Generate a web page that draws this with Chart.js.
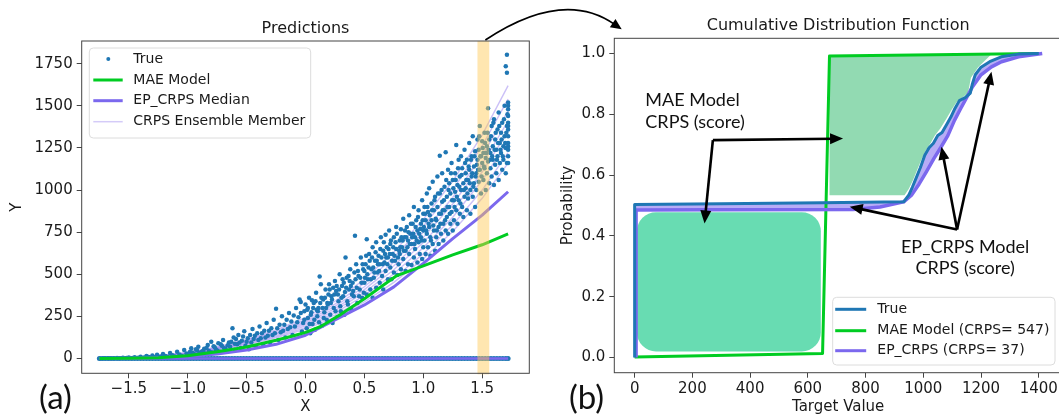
<!DOCTYPE html>
<html><head><meta charset="utf-8">
<script src="https://cdn.jsdelivr.net/npm/chart.js@4.4.1/dist/chart.umd.min.js"></script>
<style>
html,body{margin:0;padding:0;background:#fff;overflow:hidden;width:1059px;height:415px;}
#left{position:absolute;left:0;top:0;}
#right{position:absolute;left:470px;top:0;}
</style></head><body>
<canvas id="left" width="540" height="415"></canvas>
<canvas id="right" width="600" height="415"></canvas>
<script>
// ---------------- DATA: left panel (Predictions) ----------------
const leftXTicks = [-1.5, -1.0, -0.5, 0, 0.5, 1.0, 1.5];
const leftXTickLabels = ['\u22121.5', '\u22121.0', '\u22120.5', '0.0', '0.5', '1.0', '1.5'];
const leftYTicks = [0, 250, 500, 750, 1000, 1250, 1500, 1750];
const leftYTickLabels = ['0', '250', '500', '750', '1000', '1250', '1500', '1750'];
const leftXRange = [-1.9, 1.9];
const leftYRange = [-88, 1885];
const bandRange = [1.46, 1.56];

const trueSamplesLow = [[-1.74,0.5],[-1.71,1.2],[-1.68,0.8],[-1.66,2],[-1.63,1.5],[-1.6,3],[-1.58,2],[-1.55,4],[-1.52,2.5],[-1.5,6],[-1.47,3],[-1.45,8],[-1.42,5],[-1.4,11],[-1.37,6],[-1.35,14],[-1.33,9],[-1.3,18],[-1.28,7],[-1.26,22],[-1.23,12],[-1.21,27],[-1.19,15],[-1.17,9],[-1.15,33],[-1.13,19],[-1.11,12],[-1.09,40],[-1.07,24],[-1.05,15],[-1.03,50],[-1.01,29],
[-0.99,18],[-0.97,60],[-0.96,35],[-0.94,22],[-0.92,48],[-0.91,70],[-0.89,27],[-0.88,40],[-0.86,58],[-0.85,30],[-0.83,80],[-0.82,45],[-0.8,100],[-0.79,36],[-0.77,66],[-0.76,52],[-0.74,90],[-0.73,40],[-0.71,75],[-0.7,110],[-0.68,58],[-0.67,45],[-0.65,95],[-0.64,70],[-0.62,180],[-0.61,125],[-0.6,52],[-0.58,85],[-0.57,140],[-0.55,62],[-0.54,105],[-0.52,162],[-0.51,75],[-0.49,120],[-0.48,55],[-0.46,95],[-0.45,175],[-0.43,135],[-0.42,70],[-0.4,110],[-0.39,190],[-0.37,150],[-0.36,85],[-0.34,125],[-0.33,210],[-0.31,165],[-0.3,95],[-0.28,140],[-0.27,230],[-0.25,295],[-0.24,180],[-0.23,110],[-0.21,155],[-0.2,250],[-0.18,200],[-0.17,125],[-0.15,175],[-0.14,270],[-0.12,220],[-0.11,140],[-0.09,190],[-0.08,300],[-0.06,245],[-0.05,350],[-0.04,335],[-0.03,160],[-0.02,210],[-0.01,280],
[-0.98,40],[-0.95,28],[-0.93,55],[-0.9,32],[-0.87,45],[-0.84,62],[-0.81,38],[-0.78,72],[-0.75,48],[-0.72,85],[-0.69,60],[-0.66,78],[-0.63,100],[-0.6,88],[-0.59,115],[-0.56,95],[-0.53,130],[-0.5,100],[-0.47,140],[-0.44,115],[-0.41,150],[-0.38,120],[-0.35,165],[-0.32,135],[-0.29,180],[-0.26,150],[-0.22,200],[-0.19,165],[-0.16,230],[-0.13,185],[-0.1,255],[-0.07,215],[-0.04,270],[-0.01,230]];

const trueSamplesMid = [[0.0,320],[0.01,180],[0.02,240],[0.03,360],[0.04,150],[0.05,275],[0.06,205],[0.07,330],[0.08,170],[0.09,390],[0.1,250],[0.11,300],[0.12,486],[0.13,440],[0.14,195],[0.15,350],[0.16,275],[0.17,410],[0.18,230],[0.19,320],[0.2,440],[0.21,260],[0.22,370],[0.23,210],[0.24,300],[0.25,460],[0.26,400],[0.27,245],[0.28,340],[0.29,500],[0.3,280],[0.31,430],[0.32,370],[0.33,260],[0.34,600],[0.35,480],[0.36,320],[0.37,410],[0.38,530],[0.39,290],[0.4,450],[0.41,370],[0.42,728],[0.43,560],[0.44,330],[0.45,490],[0.46,410],[0.47,600],[0.48,360],[0.49,530],[0.5,450],
[0.015,290],[0.035,205],[0.055,345],[0.075,230],[0.095,290],[0.115,215],[0.135,360],[0.155,240],[0.175,300],[0.195,380],[0.215,330],[0.235,420],[0.255,280],[0.275,380],[0.295,310],[0.315,470],[0.335,395],[0.355,340],[0.375,460],[0.395,380],[0.415,510],[0.435,420],[0.455,370],[0.475,450],[0.495,390],
[0.02,300],[0.045,260],[0.065,300],[0.085,340],[0.105,280],[0.125,330],[0.145,300],[0.165,360],[0.185,330],[0.205,410],[0.225,350],[0.245,380],[0.265,430],[0.285,410],[0.305,360],[0.325,450],[0.345,420],[0.365,490],[0.385,430],[0.405,400],[0.425,470],[0.445,520],[0.465,480],[0.485,560],[0.5,520]];

const trueSamplesHigh = [[0.51,560],[0.52,708],[0.52,380],[0.53,470],[0.54,620],[0.55,410],[0.56,530],[0.57,360],[0.57,660],[0.58,480],[0.59,580],[0.6,420],[0.6,690],[0.61,510],[0.62,610],[0.63,450],[0.63,560],[0.64,720],[0.65,490],[0.66,640],[0.66,410],[0.67,570],[0.68,734],[0.68,520],[0.69,660],[0.7,470],[0.7,600],[0.71,760],[0.72,540],[0.72,680],[0.73,470],[0.74,620],[0.75,720],[0.75,510],[0.76,580],[0.77,780],[0.77,650],[0.78,495],[0.79,560],[0.8,700],[0.8,620],[0.81,768],[0.81,530],[0.82,660],[0.83,830],[0.83,590],[0.84,720],[0.85,520],[0.85,640],[0.86,780],[0.87,560],[0.87,700],[0.88,850],[0.88,620],[0.89,740],[0.9,555],[0.9,680],[0.91,800],[0.92,600],[0.92,900],[0.93,720],[0.93,650],[0.94,820],[0.95,570],[0.95,760],[0.96,690],[0.96,880],[0.97,620],[0.98,800],[0.98,720],[0.99,940],[0.99,590],[1.0,860],[1.0,660],[1.0,760],
[0.535,540],[0.565,600],[0.585,510],[0.615,560],[0.645,600],[0.675,620],[0.705,650],[0.735,580],[0.765,690],[0.795,640],[0.825,700],[0.855,720],[0.885,680],[0.915,740],[0.945,700],[0.975,770],
[0.505,480],[0.515,610],[0.525,500],[0.545,580],[0.555,470],[0.575,540],[0.595,630],[0.605,580],[0.625,520],[0.635,650],[0.655,560],[0.665,690],[0.685,600],[0.695,560],[0.715,620],[0.725,700],[0.745,660],[0.755,610],[0.775,740],[0.785,600],[0.805,660],[0.815,720],[0.835,640],[0.845,760],[0.865,660],[0.875,750],[0.895,800],[0.905,720],[0.925,680],[0.935,780],[0.955,840],[0.965,740],[0.985,700],[0.995,820]];

const trueSamplesTop = [[1.01,700],[1.01,900],[1.02,620],[1.02,820],[1.03,980],[1.03,740],[1.04,660],[1.04,870],[1.05,780],[1.05,1010],[1.06,610],[1.06,720],[1.07,920],[1.07,820],[1.08,680],[1.08,1050],[1.09,760],[1.09,880],[1.1,640],[1.1,960],[1.11,820],[1.11,720],[1.12,1080],[1.12,900],[1.13,780],[1.13,680],[1.14,980],[1.14,1204],[1.15,860],[1.15,740],[1.16,1100],[1.16,930],[1.17,800],[1.17,700],[1.18,1020],[1.18,880],[1.19,1224],[1.19,760],[1.2,960],[1.2,840],[1.21,1120],[1.21,740],[1.22,900],[1.22,1040],[1.23,800],[1.23,980],[1.24,1160],[1.24,870],[1.25,760],[1.25,1060],[1.26,940],[1.26,820],[1.27,1100],[1.27,990],[1.28,1268],[1.28,880],[1.29,1030],[1.29,800],[1.3,1180],[1.3,940],[1.31,860],[1.31,1080],[1.32,1000],[1.32,1200],[1.33,900],[1.33,1130],[1.34,1040],[1.34,840],[1.35,1240],[1.35,960],[1.36,1100],[1.36,1010],[1.37,880],[1.37,1180],[1.38,1060],[1.38,950],[1.39,1280],[1.39,1120],[1.4,1000],[1.4,860],[1.41,1200],[1.41,1080],[1.42,960],[1.42,1320],[1.43,1140],[1.43,1040],[1.44,900],[1.44,1230],[1.45,1100],[1.45,1000],
[1.46,1180],[1.46,1300],[1.47,1050],[1.47,1240],[1.48,1120],[1.48,1380],[1.49,980],[1.49,1200],[1.5,1160],[1.5,1290],[1.51,1060],[1.51,1220],[1.52,1130],[1.52,1340],[1.53,1000],[1.53,1190],[1.54,1260],[1.54,1100],[1.55,1486],[1.55,1170],[1.56,1040],[1.56,1300],[1.57,1220],[1.57,1130],[1.58,1380],[1.58,1080],[1.59,1260],[1.59,1180],[1.6,1030],[1.6,1420],[1.61,1300],[1.61,1150],[1.62,1240],[1.62,1100],[1.63,1360],[1.63,1200],[1.64,1460],[1.64,1060],[1.65,1280],[1.65,1160],[1.66,1340],[1.66,1220],[1.67,1120],[1.67,1400],[1.68,1260],[1.68,1180],[1.69,1320],[1.69,1500],[1.7,1735],[1.7,1100],[1.7,1250],[1.71,1803],[1.71,1696],[1.71,1380],[1.71,1160],[1.72,1520],[1.72,1480],[1.72,1440],[1.72,1400],[1.72,1360],[1.72,1320],[1.72,1280],[1.72,1240],[1.72,1200],
[1.005,780],[1.015,860],[1.025,760],[1.035,900],[1.045,800],[1.055,850],[1.065,700],[1.075,880],[1.085,790],[1.095,940],[1.105,830],[1.115,760],[1.125,980],[1.135,860],[1.145,800],[1.155,1000],[1.165,880],[1.175,940],[1.185,820],[1.195,1060],[1.205,900],[1.215,1000],[1.225,860],[1.235,1100],[1.245,940],[1.255,1010],[1.265,900],[1.275,1060],[1.285,960],[1.295,1130],[1.305,1020],[1.315,920],[1.325,1090],[1.345,1000],[1.355,1160],[1.365,1060],[1.375,980],[1.385,1140],[1.395,1040],[1.405,1180],[1.415,1100],[1.425,1020],[1.435,1200],[1.445,1080],[1.455,1150],
[1.465,1120],[1.475,1320],[1.485,1200],[1.495,1080],[1.505,1250],[1.515,1140],[1.525,1280],[1.535,1220],[1.545,1340],[1.555,1240],[1.565,1180],[1.575,1320],[1.585,1200],[1.595,1400],[1.605,1240],[1.615,1340],[1.625,1180],[1.635,1280],[1.645,1380],[1.655,1240],[1.665,1300],[1.675,1200],[1.685,1420],[1.695,1280],[1.705,1340],[1.715,1450],[1.72,1160],[1.72,1260],[1.72,1380],[1.72,1500]];

const trueZeroX = [-1.75,-1.725,-1.70,-1.675,-1.65,-1.625,-1.60,-1.575,-1.55,-1.525,-1.50,-1.475,-1.45,-1.425,-1.40,-1.375,-1.35,-1.325,-1.30,-1.275,-1.25,-1.225,-1.20,-1.175,-1.15,-1.125,-1.10,-1.075,-1.05,-1.025,-1.00,-0.975,-0.95,-0.925,-0.90,-0.875,-0.85,-0.825,-0.80,-0.775,-0.75,-0.725,-0.70,-0.675,-0.65,-0.625,-0.60,-0.575,-0.55,-0.525,-0.50,-0.475,-0.45,-0.425,-0.40,-0.375,-0.35,-0.325,-0.30,-0.275,-0.25,-0.225,-0.20,-0.175,-0.15,-0.125,-0.10,-0.075,-0.05,-0.025,0,0.025,0.05,0.075,0.10,0.125,0.15,0.175,0.20,0.225,0.25,0.275,0.30,0.325,0.35,0.375,0.40,0.425,0.45,0.475,0.50,0.525,0.55,0.575,0.60,0.625,0.65,0.675,0.70,0.725,0.75,0.775,0.80,0.825,0.85,0.875,0.90,0.925,0.95,0.975,1.00,1.025,1.05,1.075,1.10,1.125,1.15,1.175,1.20,1.225,1.25,1.275,1.30,1.325,1.35,1.375,1.40,1.425,1.45,1.475,1.50,1.525,1.55,1.575,1.60,1.625,1.65,1.675,1.70,1.72];

const maeX = [-1.75,-1.5,-1.25,-1.0,-0.75,-0.5,-0.25,-0.1,0.0,0.13,0.3,0.5,0.65,0.77,1.0,1.25,1.5,1.72];
const maeY = [0,1,4,16,40,68,108,135,155,190,262,355,430,490,550,615,675,740];

const medianX = [-1.75,-1.5,-1.25,-1.0,-0.75,-0.5,-0.25,0,0.25,0.5,0.75,1.0,1.25,1.5,1.72];
const medianY = [0,2,5,11,26,50,84,138,229,318,425,565,712,851,990];
const medianZeroX = [-1.75, 1.72];
const medianZeroY = [0, 0];

const ensembleX = [-1.75,-1.5,-1.25,-1.0,-0.75,-0.5,-0.25,0,0.25,0.5,0.75,1.0,1.25,1.5,1.72];
const ensemble1 = [0,5,12,26,49,81,122,174,244,336,452,592,754,951,1160];
const ensemble2 = [0,5,12,27,51,86,128,183,257,354,476,622,793,1000,1222];
const ensemble3 = [0,5,13,28,54,90,135,194,271,374,503,658,839,1058,1290];
const ensemble4 = [0,5,14,30,57,95,143,203,284,392,527,689,878,1107,1350];
const ensemble5 = [0,6,14,31,59,99,148,212,296,409,550,719,917,1156,1410];
const ensemble6 = [0,6,15,32,62,103,154,221,309,426,573,750,956,1205,1470];
const ensemble7 = [0,6,15,34,65,108,162,231,323,447,601,785,1001,1263,1540];
const ensemble8 = [0,6,16,36,68,113,170,243,340,470,632,826,1053,1328,1620];

// ---------------- DATA: right panel (CDF) ----------------
const rightXTicks = [0, 200, 400, 600, 800, 1000, 1200, 1400];
const rightXTickLabels = ['0', '200', '400', '600', '800', '1000', '1200', '1400'];
const rightYTicks = [0, 0.2, 0.4, 0.6, 0.8, 1.0];
const rightYTickLabels = ['0.0', '0.2', '0.4', '0.6', '0.8', '1.0'];
const rightXRange = [-70.5, 1480.5];
const rightYRange = [-0.05, 1.05];

const trueCdfX = [0,0,300,650,932,950,962,975,990,1005,1020,1035,1050,1065,1080,1095,1110,1125,1145,1163,1170,1180,1200,1230,1270,1330,1400];
const trueCdfY = [0,0.503,0.506,0.509,0.512,0.535,0.56,0.59,0.625,0.665,0.69,0.705,0.73,0.74,0.765,0.79,0.82,0.845,0.855,0.87,0.9,0.93,0.955,0.973,0.989,0.998,1.0];
const maeCdfX = [0, 651, 675, 1400];
const maeCdfY = [0.002, 0.013, 0.992, 1.0];
const epCdfX = [5,5,300,757,850,932,960,985,1010,1037,1060,1085,1108,1130,1150,1170,1200,1236,1271,1330,1412];
const epCdfY = [0,0.485,0.486,0.487,0.495,0.512,0.535,0.57,0.61,0.655,0.69,0.73,0.78,0.82,0.855,0.89,0.93,0.956,0.973,0.989,1.0];

// highlighted CRPS areas
const maeAreaX = [675,1235,1190,1165,1155,1135,1115,1098,1080,1060,1040,1025,1008,995,980,965,950,935,675];
const maeAreaY = [0.991,0.997,0.955,0.92,0.87,0.855,0.84,0.815,0.785,0.755,0.73,0.705,0.68,0.655,0.62,0.585,0.555,0.534,0.534];
const maeLowRectX = [8, 645];
const maeLowRectY = [0.02, 0.478];

// annotations (data units)
const maeNote = {lines: ['MAE Model', 'CRPS (score)'], x: 37, y: [0.846, 0.775]};
const maeArrowCorner = [271, 0.715];
const maeArrowTips = [[722, 0.720], [242, 0.441]];
const epNote = {lines: ['EP_CRPS Model', 'CRPS (score)'], x: 1145, y: [0.364, 0.293]};
const epArrowOrigin = [1117, 0.421];
const epArrowTips = [[745, 0.496], [1063, 0.693], [1236, 0.940]];

// ---------------- styling ----------------
const FONT = "'DejaVu Sans', sans-serif";
const NOTE_FONT = "Lato, 'Liberation Sans', sans-serif";
const C_TRUE = '#1f77b4', C_MAE = '#00cc22', C_EP = '#7b68ee', C_ENS = 'rgba(160,140,240,0.55)';
const TXT = '#1a1a1a';

const pts = (xs, ys) => xs.map((v, i) => ({x: v, y: ys[i]}));
const pairs = arr => arr.map(p => ({x: p[0], y: p[1]}));

function makeScale(axis, range, tickVals, tickLabels, size, titleText, titleLH, titlePad) {
  return {
    type: 'linear', min: range[0], max: range[1],
    afterBuildTicks: s => { s.ticks = tickVals.map(v => ({value: v})); },
    afterFit: s => { if (axis === 'x') s.height = size; else s.width = size; },
    ticks: {color: TXT, font: {family: FONT, size: 15}, padding: axis === 'x' ? 2 : 4,
      autoSkip: false, maxRotation: 0, minRotation: 0,
      callback: (v, i) => tickLabels[i]},
    grid: {display: true, drawOnChartArea: false, drawTicks: true, tickLength: 5, color: '#444', lineWidth: 1},
    border: {display: false},
    title: {display: true, text: titleText, color: TXT, font: {family: FONT, size: 15, lineHeight: titleLH}, padding: titlePad}
  };
}

function arrowHead(ctx, fx, fy, tx, ty, len, half) {
  const a = Math.atan2(ty - fy, tx - fx), c = Math.cos(a), s = Math.sin(a);
  ctx.beginPath();
  ctx.moveTo(tx, ty);
  ctx.lineTo(tx - len * c + half * s, ty - len * s - half * c);
  ctx.lineTo(tx - len * c - half * s, ty - len * s + half * c);
  ctx.closePath();
  ctx.fill();
}
function arrow(ctx, fx, fy, tx, ty, len, half) {
  const a = Math.atan2(ty - fy, tx - fx);
  ctx.beginPath();
  ctx.moveTo(fx, fy);
  ctx.lineTo(tx - len * 0.7 * Math.cos(a), ty - len * 0.7 * Math.sin(a));
  ctx.stroke();
  arrowHead(ctx, fx, fy, tx, ty, len, half);
}
function rrect(ctx, x, y, w, h, r) {
  ctx.beginPath();
  ctx.moveTo(x + r, y);
  ctx.arcTo(x + w, y, x + w, y + h, r);
  ctx.arcTo(x + w, y + h, x, y + h, r);
  ctx.arcTo(x, y + h, x, y, r);
  ctx.arcTo(x, y, x + w, y, r);
  ctx.closePath();
}

// ---------------- left chart ----------------
const leftDecor = {
  id: 'leftDecor',
  afterDatasetsDraw(chart) {
    const {ctx, chartArea: a, scales: {x}} = chart;
    ctx.save();
    const x0 = x.getPixelForValue(bandRange[0]), x1 = x.getPixelForValue(bandRange[1]);
    ctx.fillStyle = 'rgba(255,200,80,0.45)';
    ctx.fillRect(x0, a.top, x1 - x0, a.bottom - a.top + 1);
    ctx.restore();
  },
  afterDraw(chart) {
    const {ctx, chartArea: a} = chart;
    ctx.save();
    ctx.strokeStyle = '#444'; ctx.lineWidth = 1;
    ctx.strokeRect(a.left, a.top, a.right - a.left, a.bottom - a.top);
    ctx.fillStyle = TXT; ctx.font = '16px ' + FONT; ctx.textAlign = 'center'; ctx.textBaseline = 'middle';
    ctx.fillText('Predictions', (a.left + a.right) / 2, 28.5);
    const lx = a.left + 7.6, ly = a.top + 7;
    rrect(ctx, lx, ly, 221.4, 90, 4);
    ctx.fillStyle = 'rgba(255,255,255,0.85)'; ctx.fill();
    ctx.strokeStyle = '#dcdcdc'; ctx.lineWidth = 1; ctx.stroke();
    const rows = [11, 32, 52.7, 73.7];
    ctx.fillStyle = C_TRUE; ctx.beginPath(); ctx.arc(lx + 19, ly + rows[0], 2, 0, Math.PI * 2); ctx.fill();
    const samples = [[C_MAE, 3], [C_EP, 3], ['rgba(160,140,240,0.45)', 1.5]];
    samples.forEach((s, i) => {
      ctx.strokeStyle = s[0]; ctx.lineWidth = s[1];
      ctx.beginPath(); ctx.moveTo(lx + 4, ly + rows[i + 1]); ctx.lineTo(lx + 33.4, ly + rows[i + 1]); ctx.stroke();
    });
    ctx.fillStyle = TXT; ctx.font = '14px ' + FONT; ctx.textAlign = 'left'; ctx.textBaseline = 'middle';
    ['True', 'MAE Model', 'EP_CRPS Median', 'CRPS Ensemble Member'].forEach((t, i) => ctx.fillText(t, lx + 44, ly + rows[i]));
    ctx.font = '33px ' + NOTE_FONT; ctx.fillStyle = '#111';
    ctx.fillText('(a)', 39, 398);
    ctx.restore();
  }
};

const ensembleSets = [ensemble1, ensemble2, ensemble3, ensemble4, ensemble5, ensemble6, ensemble7, ensemble8].map((m, k) => ({
  label: 'CRPS Ensemble Member ' + (k + 1), data: pts(ensembleX, m), showLine: true,
  borderColor: C_ENS, borderWidth: 1.4, pointRadius: 0, fill: false, order: 50
}));

const leftChart = new Chart(document.getElementById('left'), {
  type: 'scatter',
  data: {datasets: [
    ...ensembleSets,
    {label: 'True', data: pairs(trueSamplesLow.concat(trueSamplesMid, trueSamplesHigh, trueSamplesTop)),
      backgroundColor: C_TRUE, borderWidth: 0, pointRadius: 2.25, order: 40},
    {label: 'True (zeros)', data: trueZeroX.map(v => ({x: v, y: 0})), backgroundColor: C_TRUE, borderWidth: 0, pointRadius: 2.5, order: 39},
    {label: 'EP_CRPS Median (zero)', data: pts(medianZeroX, medianZeroY), showLine: true, borderColor: C_EP, borderWidth: 2.6, pointRadius: 0, order: 30},
    {label: 'EP_CRPS Median', data: pts(medianX, medianY), showLine: true, borderColor: C_EP, borderWidth: 3, pointRadius: 0, borderJoinStyle: 'round', order: 25},
    {label: 'MAE Model', data: pts(maeX, maeY), showLine: true, borderColor: C_MAE, borderWidth: 3, pointRadius: 0, borderJoinStyle: 'round', order: 20}
  ]},
  options: {
    responsive: false, animation: false, events: [],
    layout: {padding: {left: 0, top: 41, right: 540 - 529.3, bottom: 0}},
    plugins: {legend: {display: false}, tooltip: {enabled: false}, title: {display: false}},
    scales: {
      x: makeScale('x', leftXRange, leftXTicks, leftXTickLabels, 415 - 373.3, 'X', 1.0, {top: 0, bottom: 0}),
      y: makeScale('y', leftYRange, leftYTicks, leftYTickLabels, 81.7, 'Y', 1.2, {top: 8, bottom: 0})
    }
  },
  plugins: [leftDecor]
});

// ---------------- right chart ----------------
const RIGHT_OFFSET = 470;
const rightDecor = {
  id: 'rightDecor',
  beforeDatasetsDraw(chart) {
    const {ctx, scales: {x, y}} = chart;
    ctx.save();
    const x0 = x.getPixelForValue(maeLowRectX[0]), x1 = x.getPixelForValue(maeLowRectX[1]);
    const y0 = y.getPixelForValue(maeLowRectY[1]), y1 = y.getPixelForValue(maeLowRectY[0]);
    rrect(ctx, x0, y0, x1 - x0, y1 - y0, 19);
    ctx.fillStyle = 'rgb(104,220,178)'; ctx.fill();
    ctx.restore();
  },
  afterDatasetsDraw(chart) {
    const {ctx, scales: {x, y}} = chart;
    const X = v => x.getPixelForValue(v), Y = v => y.getPixelForValue(v);
    ctx.save();
    ctx.strokeStyle = '#000'; ctx.fillStyle = '#000'; ctx.lineWidth = 2.6; ctx.lineJoin = 'miter';
    const cx = X(maeArrowCorner[0]), cy = Y(maeArrowCorner[1]);
    maeArrowTips.forEach(t => arrow(ctx, cx, cy, X(t[0]), Y(t[1]), 13, 5.5));
    const ox = X(epArrowOrigin[0]), oy = Y(epArrowOrigin[1]);
    epArrowTips.forEach(t => arrow(ctx, ox, oy, X(t[0]), Y(t[1]), 13, 5.5));
    ctx.font = '18px ' + NOTE_FONT; ctx.fillStyle = '#111'; ctx.textBaseline = 'middle';
    ctx.textAlign = 'left';
    maeNote.lines.forEach((t, i) => ctx.fillText(t, X(maeNote.x), Y(maeNote.y[i])));
    ctx.textAlign = 'center';
    epNote.lines.forEach((t, i) => ctx.fillText(t, X(epNote.x), Y(epNote.y[i])));
    ctx.restore();
  },
  afterDraw(chart) {
    const {ctx, chartArea: a} = chart;
    ctx.save();
    ctx.strokeStyle = '#444'; ctx.lineWidth = 1;
    ctx.strokeRect(a.left, a.top, a.right - a.left, a.bottom - a.top);
    ctx.fillStyle = TXT; ctx.font = '16px ' + FONT; ctx.textAlign = 'center'; ctx.textBaseline = 'middle';
    ctx.fillText('Cumulative Distribution Function', (a.left + a.right) / 2, 26);
    const lx = a.left + 218.4, ly = a.bottom - 75.4;
    rrect(ctx, lx, ly, 222.3, 67.7, 4);
    ctx.fillStyle = 'rgba(255,255,255,0.85)'; ctx.fill();
    ctx.strokeStyle = '#dcdcdc'; ctx.lineWidth = 1; ctx.stroke();
    const rows = [12, 33.4, 53.4];
    [C_TRUE, C_MAE, C_EP].forEach((c, i) => {
      ctx.strokeStyle = c; ctx.lineWidth = 3;
      ctx.beginPath(); ctx.moveTo(lx + 2.5, ly + rows[i]); ctx.lineTo(lx + 33.5, ly + rows[i]); ctx.stroke();
    });
    ctx.fillStyle = TXT; ctx.font = '14px ' + FONT; ctx.textAlign = 'left'; ctx.textBaseline = 'middle';
    ['True', 'MAE Model (CRPS= 547)', 'EP_CRPS (CRPS= 37)'].forEach((t, i) => ctx.fillText(t, lx + 44.6, ly + rows[i]));
    ctx.font = '33px ' + NOTE_FONT; ctx.fillStyle = '#111';
    ctx.fillText('(b)', 569 - RIGHT_OFFSET, 398);
    const la = leftChart.chartArea;
    const sx = leftChart.scales.x.getPixelForValue((bandRange[0] + bandRange[1]) / 2) + 2 - RIGHT_OFFSET;
    const sy = la.top - 1;
    const tx = a.left + 7.4, ty = a.top - 9;
    const dirA = Math.atan2(5.3, 7.7);
    const bx = tx - 11 * Math.cos(dirA), by = ty - 11 * Math.sin(dirA);
    const qx = (sx + bx) / 2 + 14, qy = Math.min(sy, by) - 34.5;
    ctx.strokeStyle = '#000'; ctx.fillStyle = '#000'; ctx.lineWidth = 1.6;
    ctx.beginPath(); ctx.moveTo(sx, sy); ctx.quadraticCurveTo(qx, qy, bx + 2 * Math.cos(dirA), by + 2 * Math.sin(dirA)); ctx.stroke();
    arrowHead(ctx, bx, by, tx, ty, 11, 5);
    ctx.restore();
  }
};

const epArea = pts(trueCdfX, trueCdfY).concat(pts(epCdfX, epCdfY).reverse());

new Chart(document.getElementById('right'), {
  type: 'scatter',
  data: {datasets: [
    {label: 'MAE CRPS area', data: pts(maeAreaX, maeAreaY), showLine: true, fill: 'shape',
      backgroundColor: 'rgb(146,218,178)', borderColor: 'rgba(0,0,0,0)', borderWidth: 0, pointRadius: 0, order: 60},
    {label: 'EP_CRPS CRPS area', data: epArea, showLine: true, fill: 'shape',
      backgroundColor: 'rgba(123,104,238,0.55)', borderColor: 'rgba(0,0,0,0)', borderWidth: 0, pointRadius: 0, order: 55},
    {label: 'MAE Model (CRPS= 547)', data: pts(maeCdfX, maeCdfY), showLine: true, borderColor: C_MAE, borderWidth: 3, pointRadius: 0, borderJoinStyle: 'round', order: 40},
    {label: 'EP_CRPS (CRPS= 37)', data: pts(epCdfX, epCdfY), showLine: true, borderColor: C_EP, borderWidth: 3.5, pointRadius: 0, borderJoinStyle: 'round', order: 30},
    {label: 'True', data: pts(trueCdfX, trueCdfY), showLine: true, borderColor: C_TRUE, borderWidth: 3, pointRadius: 0, borderJoinStyle: 'round', order: 20}
  ]},
  options: {
    responsive: false, animation: false, events: [],
    layout: {padding: {left: 80, top: 38.3, right: 600 - (1062 - RIGHT_OFFSET), bottom: 0}},
    plugins: {legend: {display: false}, tooltip: {enabled: false}, title: {display: false}},
    scales: {
      x: makeScale('x', rightXRange, rightXTicks, rightXTickLabels, 415 - 372.7, 'Target Value', 1.0, {top: 0, bottom: 0}),
      y: makeScale('y', rightYRange, rightYTicks, rightYTickLabels, 614.3 - RIGHT_OFFSET - 80, 'Probability', 1.2, {top: 9, bottom: 0})
    }
  },
  plugins: [rightDecor]
});
</script>
</body></html>
